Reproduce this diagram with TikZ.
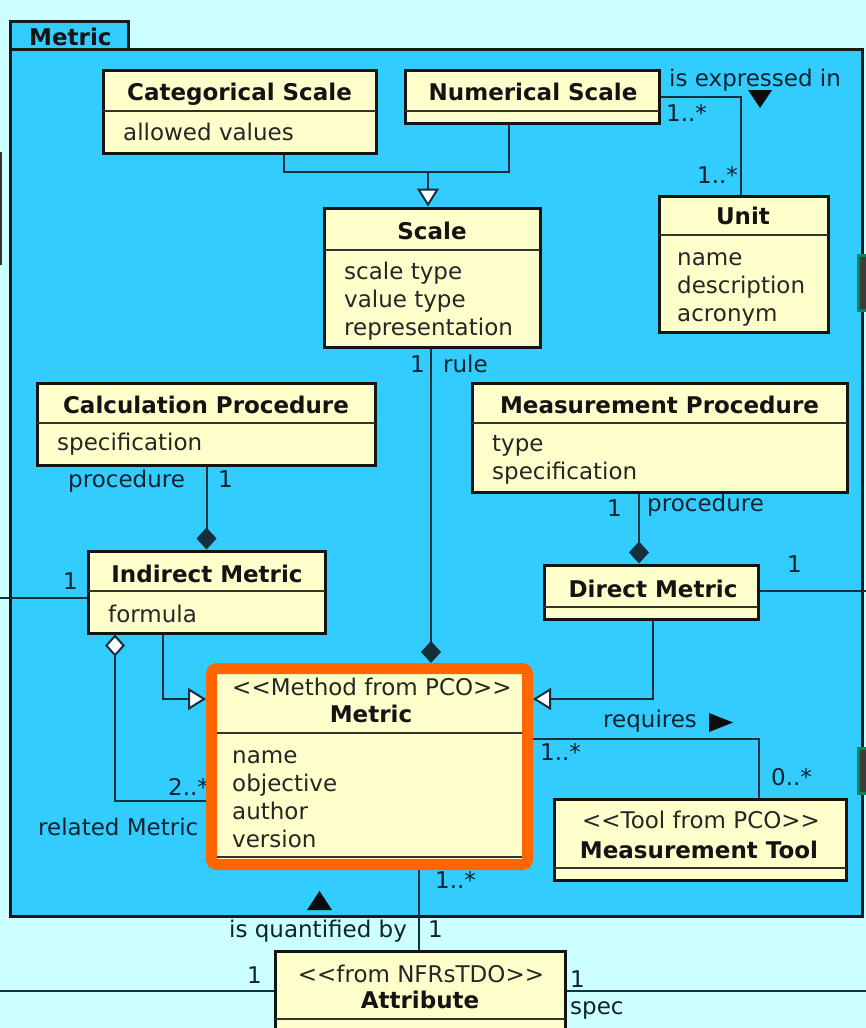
\documentclass[tikz,border=0pt]{standalone}
\usepackage{fontspec}
\setmainfont{DejaVu Sans}
\usetikzlibrary{arrows.meta}

\definecolor{pagebg}{HTML}{CCFFFF}
\definecolor{pkgblue}{HTML}{33CCFF}
\definecolor{classfill}{HTML}{FFFFCC}
\definecolor{hilite}{HTML}{FF6600}
\definecolor{linecol}{HTML}{14303D}
\definecolor{lblcol}{HTML}{10222E}
\definecolor{attrcol}{HTML}{262626}
\definecolor{markgreen}{HTML}{00875A}
\definecolor{markgrey}{HTML}{3C3C3C}

\tikzset{
  txt/.style={font=\fontsize{23}{28}\selectfont, inner sep=0, yshift=-4pt},
  classbox/.style={draw=black!92, line width=3, fill=classfill, inner sep=0, rectangle},
  pkgbox/.style={draw=black!90, line width=3, fill=pkgblue, inner sep=0, rectangle},
  divline/.style={line width=2, draw=black!80},
  title/.style={txt, font=\fontsize{23}{28}\selectfont\bfseries, text=black!92, anchor=mid},
  stereo/.style={txt, text=attrcol, anchor=mid},
  attr/.style={txt, text=attrcol, anchor=mid west},
  lbl/.style={txt, text=lblcol, anchor=mid west},
  conn/.style={line width=2, draw=linecol},
  compos/.style={conn, -{Diamond[length=22pt, width=20pt]}},
  aggreg/.style={conn, {Diamond[length=22pt, width=20pt, fill=white]}-},
  gen/.style={conn, -{Triangle[length=18pt, width=22pt, fill=white]}},
  dirmark/.style={fill=black!95},
}

% class box: name, x1, y1, x2, y2, y of the compartment line
\newcommand\umlbox[6]{%
  \node[classbox, minimum width={(#4)-(#2)}, minimum height={(#5)-(#3)}]
    (#1) at ({((#2)+(#4))/2},{((#3)+(#5))/2}) {};
  \draw[divline] (#2,#6) -- (#4,#6);}

\begin{document}
\begin{tikzpicture}[x=1pt, y=-1pt]
  \useasboundingbox (0,0) rectangle (866,1028);
  \clip (0,0) rectangle (866,1028);
  \fill[pagebg] (0,0) rectangle (866,1028);

  % package Metric
  \node[pkgbox, minimum width=118, minimum height=28] (pkgtab) at (69,35) {};
  \node[pkgbox, minimum width=852, minimum height=867] (pkg) at (436,482.5) {};
  \node[title, anchor=mid west] (pkgname) at (29,39) {Metric};

  % edge fragments of neighbouring elements
  \draw[line width=2.5, draw=black!80] (1,152) -- (1,265);
  \draw[line width=3, draw=markgreen, fill=markgrey] (858.5,255.5) rectangle (872,310.5);
  \draw[line width=3, draw=markgreen, fill=markgrey] (858.5,748.5) rectangle (872,793.5);

  % classes
  \umlbox{cat}{103}{70}{376}{153}{111}
  \node[title] (catT) at (239.5,94) {Categorical Scale};
  \node[attr] (catA) at (123,134) {allowed values};

  \umlbox{num}{405}{70}{659}{123}{111}
  \node[title] (numT) at (533,94) {Numerical Scale};

  \umlbox{scale}{324}{208}{540}{347}{250}
  \node[title] (scaleT) at (432,233) {Scale};
  \node[attr] (scaleA1) at (344,273) {scale type};
  \node[attr] (scaleA2) at (344,301) {value type};
  \node[attr] (scaleA3) at (344,329) {representation};

  \umlbox{unit}{659}{196}{828}{332}{235}
  \node[title] (unitT) at (743,218) {Unit};
  \node[attr] (unitA1) at (677,259) {name};
  \node[attr] (unitA2) at (677,287) {description};
  \node[attr] (unitA3) at (677,315) {acronym};

  \umlbox{calc}{37}{383}{375}{465}{423}
  \node[title] (calcT) at (206,407) {Calculation Procedure};
  \node[attr] (calcA) at (57,444) {specification};

  \umlbox{mp}{472}{383}{847}{492}{423}
  \node[title] (mpT) at (659.5,407) {Measurement Procedure};
  \node[attr] (mpA1) at (492,445) {type};
  \node[attr] (mpA2) at (492,473) {specification};

  \umlbox{im}{88}{551}{325}{633}{591}
  \node[title] (imT) at (207,576) {Indirect Metric};
  \node[attr] (imA) at (108,616) {formula};

  \umlbox{dm}{544}{565}{758}{619}{607}
  \node[title] (dmT) at (653,591) {Direct Metric};

  \umlbox{tool}{554}{799}{846}{880}{868}
  \node[stereo] (toolS) at (701,822) {<{}<Tool from PCO>{}>};
  \node[title] (toolT) at (699,852) {Measurement Tool};

  \umlbox{attr}{275}{951}{565}{1050}{1019}
  \node[stereo] (attrS) at (421,976) {<{}<from NFRsTDO>{}>};
  \node[title] (attrT) at (420,1002) {Attribute};

  % role labels partly covered by the highlighted class
  \node[lbl] (aggMult) at (168,789) {2..*};
  \node[lbl] (aggRole) at (38,829) {related Metric};

  % highlighted class Metric
  \node[draw=hilite, line width=11, rounded corners=5, fill=classfill,
        inner sep=0, outer sep=5.5, minimum width=316, minimum height=196]
        (metric) at (369.5,766.5) {};
  \draw[divline] (217,733) -- (522,733);
  \draw[divline] (217,857) -- (522,857);
  \node[stereo] (metricS) at (372,689) {<{}<Method from PCO>{}>};
  \node[title] (metricT) at (371,716) {Metric};
  \node[attr] (metricA1) at (232,757) {name};
  \node[attr] (metricA2) at (232,785) {objective};
  \node[attr] (metricA3) at (232,813) {author};
  \node[attr] (metricA4) at (232,841) {version};

  % scale generalisation
  \coordinate (catX) at (284,0);
  \coordinate (numX) at (509,0);
  \coordinate (genJ) at (428,172);
  \draw[conn] (catX |- cat.south) -- (catX |- genJ) -- (numX |- genJ) -- (numX |- num.south);
  \draw[gen] (genJ) -- (genJ |- scale.north);

  % is expressed in
  \coordinate (expC) at (741,97);
  \draw[conn] (num.east |- expC) -- (expC) -- (expC |- unit.north);
  \node[lbl] (expL) at (669,80) {is expressed in};
  \fill[dirmark] (748,90) -- (772,90) -- (760,108) -- cycle;
  \node[lbl] (expM1) at (666,115) {1..*};
  \node[lbl] (expM2) at (697,177) {1..*};

  % rule
  \coordinate (ruleX) at (431,0);
  \draw[compos] (ruleX |- scale.south) -- (ruleX |- metric.north);
  \node[lbl] (ruleM) at (410,366) {1};
  \node[lbl] (ruleL) at (443,366) {rule};

  % calculation procedure
  \draw[compos] (calc.south -| im.north) -- (im.north);
  \node[lbl] (calcL) at (68,481) {procedure};
  \node[lbl] (calcM) at (218,481) {1};

  % measurement procedure
  \coordinate (mpX) at (639,0);
  \draw[compos] (mpX |- mp.south) -- (mpX |- dm.north);
  \node[lbl] (mpM) at (607,510) {1};
  \node[lbl] (mpL) at (647,505) {procedure};

  % associations leaving the package sideways
  \coordinate (imL) at (0,598);
  \draw[conn] (imL) -- (imL -| im.west);
  \node[lbl] (imM) at (63,583) {1};
  \coordinate (dmR) at (866,591);
  \draw[conn] (dm.east |- dmR) -- (dmR);
  \node[lbl] (dmM) at (787,566) {1};

  % metric specialisations
  \coordinate (imG) at (163,699);
  \draw[gen] (imG |- im.south) -- (imG) -- (imG -| metric.west);
  \coordinate (dmG) at (653,699);
  \draw[gen] (dmG |- dm.south) -- (dmG) -- (dmG -| metric.east);

  % related metrics aggregation
  \coordinate (aggC) at (115,801);
  \draw[aggreg] (aggC |- im.south) -- (aggC) -- (aggC -| metric.west);

  % requires
  \coordinate (reqC) at (759,739);
  \draw[conn] (metric.east |- reqC) -- (reqC) -- (reqC |- tool.north);
  \node[lbl] (reqL) at (603,721) {requires};
  \fill[dirmark] (709,713) -- (709,732) -- (733,722.5) -- cycle;
  \node[lbl] (reqM1) at (540,754) {1..*};
  \node[lbl] (reqM2) at (771,779) {0..*};

  % is quantified by
  \coordinate (qX) at (419,0);
  \draw[conn] (qX |- metric.south) -- (qX |- attr.north);
  \node[lbl] (qM1) at (435,882) {1..*};
  \fill[dirmark] (307,910) -- (332,910) -- (319.5,891) -- cycle;
  \node[lbl] (qL) at (229,931) {is quantified by};
  \node[lbl] (qM2) at (428,931) {1};

  % attribute associations
  \coordinate (atL) at (0,991);
  \draw[conn] (atL) -- (atL -| attr.west);
  \node[lbl] (atLM) at (247,977) {1};
  \coordinate (atR) at (866,991);
  \draw[conn] (attr.east |- atR) -- (atR);
  \node[lbl] (atRM) at (570,981) {1};
  \node[lbl] (atRL) at (570,1008) {spec};
\end{tikzpicture}
\end{document}
